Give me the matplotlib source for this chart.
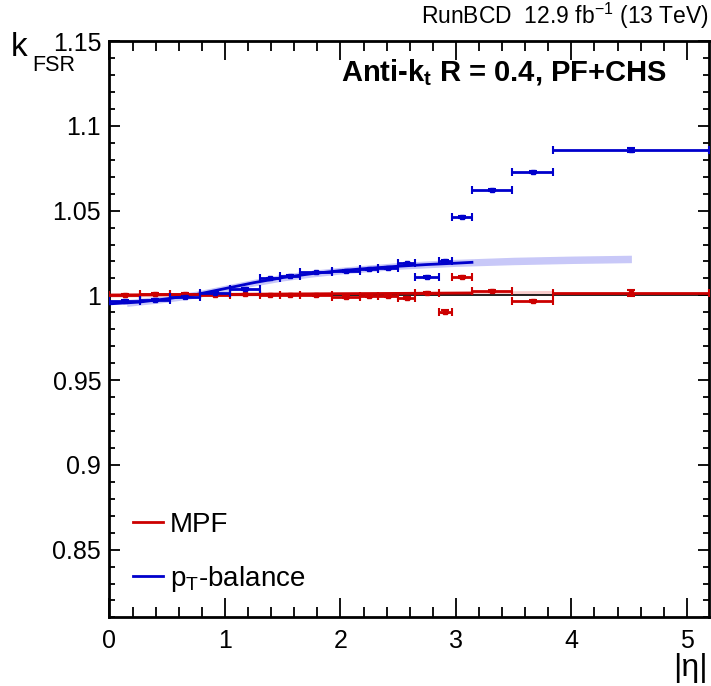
import numpy as np
import matplotlib
matplotlib.use("Agg")
import matplotlib.pyplot as plt

plt.rcParams['font.family'] = ['Liberation Sans', 'DejaVu Sans']
plt.rcParams['mathtext.fontset'] = 'custom'
plt.rcParams['mathtext.rm'] = 'Liberation Sans'
plt.rcParams['mathtext.it'] = 'Liberation Sans'
plt.rcParams['mathtext.bf'] = 'Liberation Sans:bold'

# eta bin edges
eta_edges = [0, 0.261, 0.522, 0.783, 1.044, 1.305, 1.479, 1.653, 1.930, 2.172,
             2.322, 2.5, 2.65, 2.853, 2.964, 3.139, 3.489, 3.839, 5.191]

# MPF points
mpf_val = [1.0005, 1.0008, 1.0008, 1.0005, 1.0006, 1.0005, 1.0004, 1.0003, 0.9990,
           0.9997, 0.9996, 0.9983, 1.0015, 0.9904, 1.0110, 1.0027, 0.9966, 1.0015]
mpf_err = [0.0004, 0.0004, 0.0004, 0.0004, 0.0004, 0.0004, 0.0004, 0.0004, 0.0005,
           0.0005, 0.0005, 0.0006, 0.0005, 0.0007, 0.0005, 0.0005, 0.0006, 0.0018]

# pT-balance points
ptb_val = [0.9968, 0.9972, 0.9992, 1.0015, 1.0037, 1.0100, 1.0116, 1.0136, 1.0142,
           1.0153, 1.0163, 1.0189, 1.0110, 1.0204, 1.0463, 1.0621, 1.0729, 1.0857]
ptb_err = [0.0004, 0.0004, 0.0004, 0.0004, 0.0004, 0.0004, 0.0004, 0.0004, 0.0005,
           0.0005, 0.0005, 0.0005, 0.0005, 0.0007, 0.0005, 0.0005, 0.0005, 0.0012]

# fit curves
mpf_fit_eta = [0, 1.0, 2.0, 3.139]
mpf_fit_val = [1.0002, 1.0006, 1.0010, 1.0014]
mpf_band_eta = [0, 1.0, 2.0, 3.0, 3.839]
mpf_band_val = [1.0002, 1.0006, 1.0010, 1.0013, 1.0016]
mpf_band_err = [0.0012, 0.0010, 0.0010, 0.0012, 0.0013]

ptb_fit_eta = [0, 0.25, 0.5, 0.75, 1.0, 1.25, 1.5, 1.75, 2.0, 2.25, 2.5, 2.75, 3.0, 3.139]
ptb_fit_val = [0.9950, 0.9960, 0.9980, 1.0005, 1.0040, 1.0075, 1.0105, 1.0128, 1.0146,
               1.0160, 1.0172, 1.0182, 1.0190, 1.0195]
ptb_band_eta = [0.15, 0.5, 0.75, 1.0, 1.25, 1.5, 1.75, 2.0, 2.5, 3.0, 3.5, 4.0, 4.52]
ptb_band_val = [0.9955, 0.9980, 1.0005, 1.0040, 1.0075, 1.0105, 1.0128, 1.0146, 1.0174,
                1.0192, 1.0203, 1.0210, 1.0215]
ptb_band_err = [0.0020, 0.0020, 0.0020, 0.0020, 0.0020, 0.0020, 0.0020, 0.0020, 0.0020,
                0.0021, 0.0022, 0.0022, 0.0022]

red = '#cc0000'
blue = '#0000cc'

edges = np.array(eta_edges)
centers = 0.5 * (edges[1:] + edges[:-1])
halfw = 0.5 * (edges[1:] - edges[:-1])

fig = plt.figure(figsize=(7.11, 6.86), dpi=100)
ax = fig.add_axes([0.154, 0.100, 0.843, 0.840])

# bands
bv = np.array(ptb_band_val); be = np.array(ptb_band_err)
ax.fill_between(ptb_band_eta, bv - be, bv + be, color='#c8c8f8', lw=0, zorder=1)
rv = np.array(mpf_band_val); re_ = np.array(mpf_band_err)
ax.fill_between(mpf_band_eta, rv - re_, rv + re_, color='#f8cccc', lw=0, zorder=1)

ax.axhline(1.0, color='black', lw=1.2, zorder=2)

ax.plot(mpf_fit_eta, mpf_fit_val, color=red, lw=2, zorder=3)
ax.plot(ptb_fit_eta, ptb_fit_val, color=blue, lw=2, zorder=3)

ax.errorbar(centers, mpf_val, xerr=halfw, yerr=mpf_err, fmt='s', ms=3, color=red,
            ecolor=red, elinewidth=2, capsize=3, capthick=1.5, zorder=4)
ax.errorbar(centers, ptb_val, xerr=halfw, yerr=ptb_err, fmt='s', ms=3, color=blue,
            ecolor=blue, elinewidth=2, capsize=3, capthick=1.5, zorder=4)

ax.plot([], [], color=red, lw=2, label='MPF')
ax.plot([], [], color=blue, lw=2, label='p$_\\mathregular{T}$-balance')
handles, labels = ax.get_legend_handles_labels()
ax.legend(handles[-2:], labels[-2:], loc='lower left', bbox_to_anchor=(-0.003, -0.003),
          frameon=False, fontsize=20, handlelength=1.1, handletextpad=0.25,
          labelspacing=0.95)

ax.set_xlim(0, 5.191)
ax.set_ylim(0.81, 1.15)
ax.set_xticks([0, 1, 2, 3, 4, 5])
ax.set_xticks(np.arange(0, 5.2, 0.2), minor=True)
ax.set_yticks([0.85, 0.9, 0.95, 1.0, 1.05, 1.1, 1.15])
ax.set_yticklabels(['0.85', '0.9', '0.95', '1', '1.05', '1.1', '1.15'])
ax.set_yticks(np.arange(0.81, 1.15, 0.01), minor=True)
ax.tick_params(which='both', direction='in', top=True, right=True, labelsize=18, width=1.3)
ax.tick_params(axis='x', which='major', length=13.5, pad=8)
ax.tick_params(axis='x', which='minor', length=7)
ax.tick_params(axis='y', which='major', length=8, pad=6)
ax.tick_params(axis='y', which='minor', length=4.5)
for s in ax.spines.values():
    s.set_linewidth(2)

fig.text(0.997, 0.955, 'RunBCD  12.9 fb$^{-1}$ (13 TeV)', ha='right', va='bottom', fontsize=16.5)
ax.text(0.93, 0.946, 'Anti-k$_\\mathregular{t}$ R = 0.4, PF+CHS', transform=ax.transAxes,
        ha='right', va='center', fontsize=21, fontweight='bold')
# y-axis title: k with FSR subscript, placed below the 1.15 tick label
fig.text(0.015, 1 - 56 / 686, 'k', ha='left', va='baseline', fontsize=24)
fig.text(0.045, 1 - 71 / 686, 'FSR', ha='left', va='baseline', fontsize=15.5)
fig.text(0.995, 0.005, '|\u03b7|', ha='right', va='bottom', fontsize=23)

fig.savefig('out.png', dpi=100)
